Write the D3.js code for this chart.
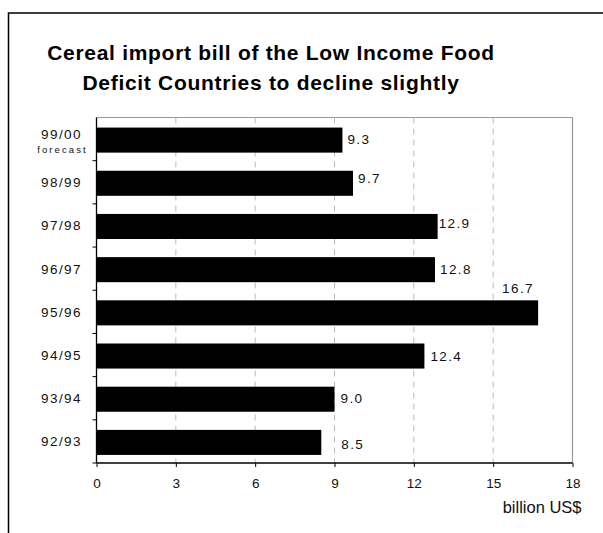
<!DOCTYPE html>
<html>
<head>
<meta charset="utf-8">
<script src="https://cdn.jsdelivr.net/npm/d3@7"></script>
<style>
  body { margin: 0; background: #fff; }
  svg { display: block; font-family: "Liberation Sans", Arial, sans-serif; }
</style>
</head>
<body>
<div id="chart"></div>
<script>
// Данные (сверху вниз)
const seasons = ["99/00", "98/99", "97/98", "96/97", "95/96", "94/95", "93/94", "92/93"];
const bill = [9.3, 9.7, 12.9, 12.8, 16.7, 12.4, 9.0, 8.5];
const xTicks = [0, 3, 6, 9, 12, 15, 18];
const titleLines = ["Cereal import bill of the Low Income Food", "Deficit Countries to decline slightly"];
const xTitle = "billion US$";
const forecastNote = "forecast";
// сдвиг подписей значений [dx, dy] относительно конца столбца
const labelNudge = [[5, 0], [5, -4], [1, -2], [5, 0], [-36, -24], [6, 1], [6, 0], [20, 3]];

const W = 603, H = 533;
const margin = {top: 117.5, right: 30.5, bottom: 70, left: 96.5};
const width = W - margin.left - margin.right;
const height = H - margin.top - margin.bottom;

const root = d3.select("#chart").append("svg")
    .attr("width", W)
    .attr("height", H);

// Рамка
root.append("rect")
    .attr("x", 8.5).attr("y", 13)
    .attr("width", 700).attr("height", 600)
    .attr("fill", "none")
    .attr("stroke", "#000")
    .attr("stroke-width", 1.5);

// Заголовок
root.selectAll(".title")
    .data(titleLines)
    .enter()
    .append("text")
    .attr("x", 271)
    .attr("y", (d, i) => 60 + i * 30)
    .attr("text-anchor", "middle")
    .attr("font-size", 21)
    .attr("font-weight", "bold")
    .attr("letter-spacing", 0.7)
    .text(d => d);

const svg = root.append("g")
    .attr("transform", `translate(${margin.left},${margin.top})`);

const xScale = d3.scaleLinear().domain([0, 18]).range([0, width]);
const yScale = d3.scaleBand().domain(seasons).range([0, height]).paddingInner(0.42).paddingOuter(0.21);

// Сетка
svg.selectAll(".grid")
    .data(xTicks.filter(t => t > 0 && t < 18))
    .enter()
    .append("line")
    .attr("x1", d => xScale(d)).attr("x2", d => xScale(d))
    .attr("y1", 0).attr("y2", height)
    .attr("stroke", "#bbb")
    .attr("stroke-dasharray", "6,5");

// Рамка области графика
svg.append("path")
    .attr("d", `M0,0H${width}V${height}`)
    .attr("fill", "none")
    .attr("stroke", "#999")
    .attr("stroke-width", 1.2);

// Столбцы
svg.selectAll(".bar")
    .data(seasons)
    .enter()
    .append("rect")
    .attr("x", 0)
    .attr("y", d => yScale(d) + 1)
    .attr("width", (d, i) => xScale(bill[i]))
    .attr("height", yScale.bandwidth())
    .attr("fill", "#000");

// Подписи значений
svg.selectAll(".val")
    .data(seasons)
    .enter()
    .append("text")
    .attr("x", (d, i) => xScale(bill[i]) + labelNudge[i][0])
    .attr("y", (d, i) => yScale(d) + yScale.bandwidth() / 2 + 5 + labelNudge[i][1])
    .attr("font-size", 13.5)
    .attr("letter-spacing", 1.4)
    .attr("fill", "#111")
    .text((d, i) => bill[i].toFixed(1));

// Ось X
const xAxis = d3.axisBottom(xScale).tickValues(xTicks).tickSize(4).tickPadding(11);
const gx = svg.append("g")
    .attr("transform", `translate(0,${height})`)
    .call(xAxis);
gx.select(".domain").attr("d", `M0,0H${width}`).attr("stroke-width", 1.3);
gx.selectAll("text").attr("font-size", 13.5).attr("font-family", "Liberation Sans, Arial, sans-serif").attr("fill", "#111");

// Ось Y: засечки на границах полос
const bounds = d3.range(1, seasons.length + 1).map(i => i * height / seasons.length);
svg.selectAll(".ytick")
    .data(bounds)
    .enter()
    .append("line")
    .attr("x1", -4).attr("x2", 0)
    .attr("y1", d => d).attr("y2", d => d)
    .attr("stroke", "#000");
svg.append("line")
    .attr("x1", 0).attr("x2", 0)
    .attr("y1", 0).attr("y2", height)
    .attr("stroke", "#000")
    .attr("stroke-width", 1.3);

svg.selectAll(".ylab")
    .data(seasons)
    .enter()
    .append("text")
    .attr("x", -35)
    .attr("y", (d, i) => (i + 0.5) * height / seasons.length + (i === 0 ? 0 : 5))
    .attr("text-anchor", "middle")
    .attr("font-size", 13.5)
    .attr("letter-spacing", 1.4)
    .attr("fill", "#111")
    .text(d => d);

svg.append("text")
    .attr("x", -34)
    .attr("y", 0.5 * height / seasons.length + 13.5)
    .attr("text-anchor", "middle")
    .attr("font-size", 9.5)
    .attr("letter-spacing", 2.1)
    .attr("fill", "#111")
    .text(forecastNote);

// Подпись оси X
svg.append("text")
    .attr("x", width + 9)
    .attr("y", height + 50)
    .attr("text-anchor", "end")
    .attr("font-size", 16.5)
    .attr("fill", "#111")
    .text(xTitle);
</script>
</body>
</html>
